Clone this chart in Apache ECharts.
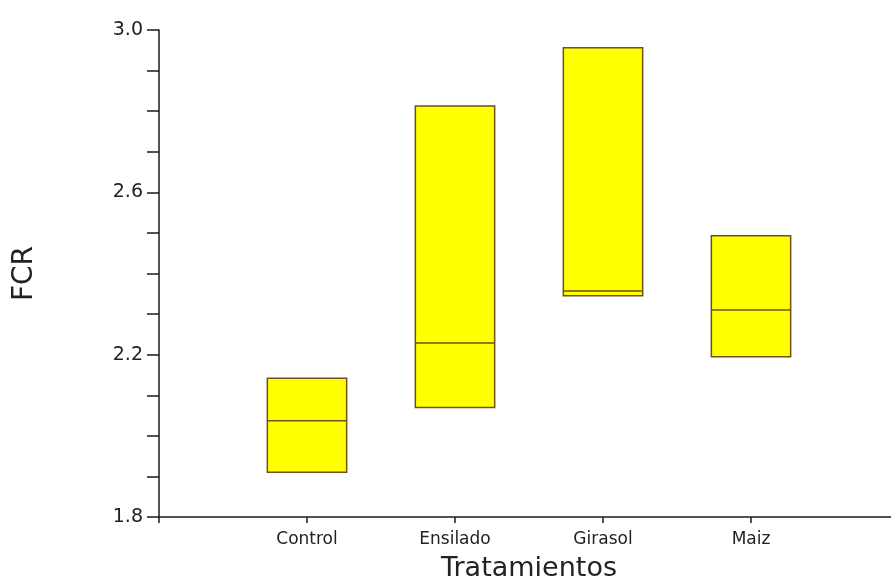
<!DOCTYPE html>
<html>
<head>
<meta charset="utf-8">
<script src="https://cdn.jsdelivr.net/npm/echarts@6/dist/echarts.min.js"></script>
<style>
  html, body { margin: 0; padding: 0; background: #ffffff; }
  #chart { width: 891px; height: 578px; }
</style>
</head>
<body>
<div id="chart"></div>
<script>
// Treatments on the x axis
const categories = ['Control', 'Ensilado', 'Girasol', 'Maiz'];
// Lower edge, median and upper edge of each FCR box
const boxLow    = [1.91, 2.07, 2.345, 2.195];
const boxMedian = [2.037, 2.229, 2.357, 2.31];
const boxHigh   = [2.142, 2.813, 2.956, 2.493];
// Y axis range and tick step
const yMin = 1.8, yMax = 3.0, yStep = 0.4;

const boxData = categories.map((c, i) => [i + 1, boxLow[i], boxMedian[i], boxHigh[i]]);

const fill = '#ffff00';
const edge = '#6e5218';
const axisColor = '#1a1a1a';
const textColor = '#222222';
const font = 'DejaVu Sans';

function renderBox(params, api) {
  const x = api.value(0);
  const top = api.coord([x, api.value(3)]);
  const bot = api.coord([x, api.value(1)]);
  const med = api.coord([x, api.value(2)]);
  const half = api.size([1, 0])[0] * 0.268;
  return {
    type: 'group',
    children: [
      {
        type: 'rect',
        shape: { x: top[0] - half, y: top[1], width: half * 2, height: bot[1] - top[1] },
        style: { fill: fill, stroke: edge, lineWidth: 1.5 }
      },
      {
        type: 'line',
        shape: { x1: med[0] - half, y1: med[1], x2: med[0] + half, y2: med[1] },
        style: { stroke: edge, lineWidth: 1.5 }
      }
    ]
  };
}

const chart = echarts.init(document.getElementById('chart'), null, { renderer: 'canvas' });
chart.setOption({
  animation: false,
  backgroundColor: '#ffffff',
  // the x axis runs on past the right edge of the canvas
  grid: { left: 159, width: 740, top: 30, bottom: 61, containLabel: false, outerBoundsMode: 'none' },
  xAxis: {
    type: 'value',
    min: 0,
    max: categories.length + 1,
    interval: 1,
    splitLine: { show: false },
    axisLine: { show: true, lineStyle: { color: axisColor, width: 1.5 } },
    axisTick: { show: true, inside: false, length: 6, lineStyle: { color: axisColor, width: 1.5 } },
    axisLabel: {
      margin: 14,
      color: textColor,
      fontFamily: font,
      fontSize: 17,
      showMinLabel: true,
      showMaxLabel: true,
      formatter: v => categories[v - 1] || ''
    },
    name: 'Tratamientos',
    nameLocation: 'middle',
    nameGap: 38,
    nameTextStyle: { color: textColor, fontFamily: font, fontSize: 27 }
  },
  yAxis: {
    type: 'value',
    min: yMin,
    max: yMax,
    interval: yStep,
    splitLine: { show: false },
    axisLine: { show: true, onZero: false, lineStyle: { color: axisColor, width: 1.5 } },
    axisTick: { show: true, inside: false, length: 12, lineStyle: { color: axisColor, width: 1.5 } },
    minorTick: { show: true, splitNumber: 4, length: 12, lineStyle: { color: axisColor, width: 1.5 } },
    axisLabel: {
      margin: 16,
      color: textColor,
      fontFamily: font,
      fontSize: 19,
      formatter: v => v.toFixed(1)
    },
    name: 'FCR',
    nameLocation: 'middle',
    nameGap: 120,
    nameRotate: 90,
    nameTextStyle: { color: textColor, fontFamily: font, fontSize: 28 }
  },
  series: [{
    type: 'custom',
    renderItem: renderBox,
    encode: { x: 0, y: [1, 2, 3] },
    data: boxData
  }]
});
</script>
</body>
</html>
